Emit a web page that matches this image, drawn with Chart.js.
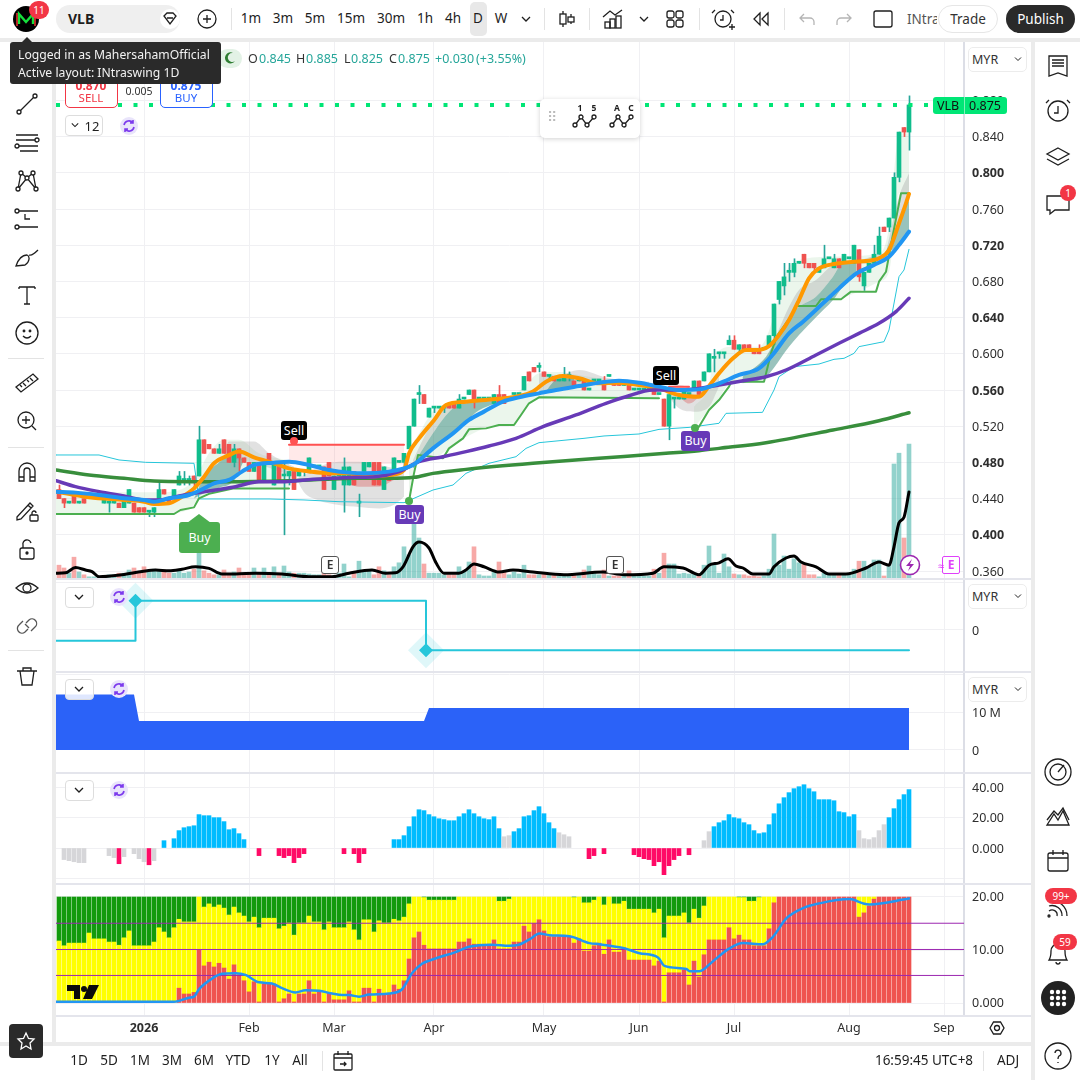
<!DOCTYPE html>
<html>
<head>
<meta charset="utf-8">
<title>VLB</title>
<script src="https://cdn.jsdelivr.net/npm/chart.js@4/dist/chart.umd.min.js"></script>
<style>
html,body{margin:0;padding:0;background:#ebebeb;width:1080px;height:1080px;overflow:hidden;font-family:"Noto Sans",sans-serif;color:#1e1e1e}
canvas{position:absolute;left:56px;display:block}
.box{position:absolute;box-sizing:border-box}
.t{position:absolute;white-space:nowrap;transform:translate(-50%,-50%);line-height:1}
.l{position:absolute;white-space:nowrap;transform:translateY(-50%);line-height:1}
svg.i{position:absolute;overflow:visible;fill:none;stroke:#1e1e1e;stroke-width:1.3}
</style>
</head>
<body>
<div class="box" style="left:0;top:0;width:1080px;height:38px;background:#fff"></div>
<div class="box" style="left:0;top:42px;width:52px;height:1000px;background:#fff"></div>
<div class="box" style="left:56px;top:42px;width:975px;height:1000px;background:#fff"></div>
<div class="box" style="left:1035px;top:42px;width:45px;height:1038px;background:#fff"></div>
<div class="box" style="left:0;top:1046px;width:1031px;height:34px;background:#fff"></div>
<canvas id="pricePane" width="975" height="536" style="top:42px"></canvas>
<canvas id="stepPane" width="975" height="94" style="top:578px"></canvas>
<canvas id="areaPane" width="975" height="100" style="top:672px"></canvas>
<canvas id="histPane" width="975" height="111" style="top:772px"></canvas>
<canvas id="stackPane" width="975" height="159" style="top:883px"></canvas>
<div id="chrome"></div>
<script>
// candles
const opens = [.450,.440,.435,.445,.435,.440,.440,.440,.440,.435,
  .435,.435,.435,.430,.435,.435,.430,.430,.425,.425,
  .435,.450,.440,.440,.455,.460,.460,.465,.465,.505,
  .500,.495,.490,.505,.500,.480,.495,.485,.480,.470,
  .480,.460,.490,.455,.480,.465,.465,.470,.465,.470,
  .470,.475,.475,.475,.480,.450,.465,.455,.455,.470,
  .435,.470,.475,.480,.480,.450,.470,.470,.480,.480,
  .495,.520,.555,.555,.530,.540,.540,.540,.545,.545,
  .540,.550,.555,.560,.550,.550,.550,.545,.555,.555,
  .550,.555,.555,.560,.580,.585,.585,.580,.575,.575,
  .570,.570,.575,.570,.570,.570,.560,.570,.570,.570,
  .575,.570,.570,.565,.570,.560,.560,.560,.560,.560,
  .555,.550,.520,.550,.550,.550,.555,.560,.570,.570,
  .580,.595,.600,.600,.610,.615,.605,.610,.610,.605,
  .605,.605,.610,.620,.660,.675,.690,.690,.700,.710,
  .700,.700,.690,.695,.705,.695,.705,.700,.705,.700,
  .715,.675,.690,.700,.710,.740,.740,.750,.795,.850,.845];
const highs = [.455,.440,.435,.445,.435,.440,.440,.440,.440,.440,
  .435,.435,.435,.440,.450,.435,.430,.430,.425,.430,
  .460,.450,.440,.450,.470,.470,.465,.465,.520,.505,
  .500,.495,.500,.505,.500,.500,.495,.485,.480,.480,
  .480,.480,.490,.480,.480,.480,.470,.470,.470,.470,
  .485,.475,.475,.475,.480,.465,.465,.485,.475,.470,
  .445,.480,.480,.480,.480,.475,.470,.485,.480,.490,
  .520,.550,.565,.555,.540,.540,.540,.540,.545,.545,
  .555,.550,.560,.560,.550,.550,.550,.555,.565,.555,
  .550,.555,.555,.575,.580,.585,.590,.580,.575,.575,
  .570,.585,.580,.570,.570,.570,.560,.570,.570,.575,
  .575,.570,.570,.570,.570,.560,.560,.560,.560,.560,
  .555,.550,.555,.550,.550,.560,.555,.570,.570,.580,
  .600,.605,.600,.600,.620,.620,.610,.610,.610,.605,
  .610,.605,.620,.655,.680,.700,.700,.705,.700,.710,
  .700,.700,.695,.720,.705,.710,.705,.710,.705,.720,
  .715,.690,.700,.720,.740,.740,.750,.800,.845,.850,.885];
const lows = [.440,.430,.435,.435,.435,.435,.440,.440,.440,.435,
  .425,.435,.430,.430,.435,.425,.425,.425,.420,.420,
  .435,.445,.435,.440,.455,.455,.455,.450,.465,.490,
  .495,.490,.490,.490,.480,.475,.470,.480,.470,.470,
  .460,.460,.480,.455,.460,.400,.455,.450,.465,.465,
  .470,.475,.475,.450,.465,.450,.465,.425,.455,.455,
  .420,.470,.475,.455,.455,.450,.460,.470,.480,.475,
  .495,.520,.545,.545,.530,.535,.540,.535,.540,.540,
  .540,.550,.555,.540,.550,.550,.550,.545,.545,.545,
  .550,.555,.555,.560,.570,.580,.580,.575,.570,.570,
  .570,.570,.570,.565,.570,.560,.560,.570,.570,.560,
  .575,.565,.565,.565,.560,.560,.560,.560,.560,.555,
  .555,.520,.505,.540,.550,.550,.555,.560,.555,.570,
  .580,.580,.595,.595,.610,.605,.600,.605,.605,.600,
  .600,.605,.610,.610,.655,.665,.680,.685,.700,.695,
  .695,.690,.690,.695,.705,.695,.695,.700,.705,.700,
  .680,.670,.690,.700,.710,.735,.735,.750,.790,.840,.825];
const closes = [.440,.435,.435,.435,.435,.435,.440,.440,.440,.440,
  .435,.435,.430,.440,.450,.425,.425,.425,.425,.430,
  .450,.445,.435,.450,.465,.460,.460,.460,.505,.490,
  .495,.490,.495,.490,.480,.495,.485,.480,.470,.480,
  .460,.480,.480,.480,.460,.465,.470,.450,.470,.470,
  .485,.475,.475,.450,.465,.465,.465,.475,.475,.455,
  .435,.480,.480,.455,.455,.475,.460,.485,.480,.490,
  .520,.550,.555,.545,.540,.540,.540,.540,.540,.540,
  .550,.550,.560,.550,.550,.550,.550,.555,.545,.545,
  .550,.555,.555,.575,.570,.580,.585,.575,.575,.570,
  .570,.575,.575,.565,.570,.560,.560,.570,.570,.560,
  .575,.565,.565,.570,.560,.560,.560,.560,.560,.555,
  .555,.520,.555,.550,.550,.560,.555,.570,.555,.580,
  .600,.595,.600,.600,.615,.605,.610,.605,.605,.600,
  .600,.605,.620,.655,.680,.685,.690,.700,.700,.700,
  .695,.695,.695,.705,.705,.705,.695,.710,.705,.720,
  .685,.690,.700,.710,.730,.735,.750,.795,.845,.845,.875];
const volumes = [3.2,2.5,1.2,5.2,1.5,.8,.3,.3,.3,.5,
  .8,.8,1.2,1.2,2,2.5,1.5,2.8,1.5,2.2,
  2,2,1.2,1.2,2,1.2,1.5,2.2,7,1.8,
  1.2,.8,.8,2,1.2,1.5,2.5,1,1,2.5,
  1.2,2.5,1,2.8,1.2,3,1.5,1.2,1.2,1.2,
  1,.8,.8,1.2,.8,.5,1.2,3.5,.3,1.2,
  4.2,1.5,2,.8,2.8,1.8,.8,2.8,3.8,7.8,
  5.8,17,10,3.5,1.2,1.2,1.2,.8,.8,.8,
  2.8,1.5,4,7.8,.8,.5,.5,1.5,4,1.8,
  .8,1.5,1,3.2,.8,.8,.8,1.2,.8,.8,
  .5,.8,.8,1,.8,2,3,1.5,.8,2,
  .5,.5,.5,.8,1.8,.8,.5,.5,.5,2.2,
  1.2,6.2,3.5,3.5,1,1.2,1,1.2,.5,3.2,
  8,3.5,1.2,6,2.8,1,.8,.8,.5,.5,
  .3,.5,2.2,11,3.2,5.5,2.2,4.8,3.8,3.5,
  .8,.8,.3,1.2,.8,.8,.8,.8,.8,2.2,
  4.2,4.2,2.8,4.5,4.5,.5,3.2,28.5,31.2,10,33.5];

// moving averages and stops, price per bar number
const orangeX = [-0.6,6,13,17,19,22,24,27,29,31,34,36,39,43,46,50,54,58,61,66,69,70,72,75,77.4,81.4,86.8,91.4,94.8,97.4,100.8,104,108,112,116,120,124,128,130,132,134.8,137.4,139.4,142,144,146,148,150,152,155,159,161.4,164,166,168,169.4,170];
const orangeY = [.4477,.4414,.4385,.4366,.434,.4348,.44,.4513,.464,.479,.488,.492,.4856,.479,.4734,.47,.468,.468,.464,.466,.4716,.4899,.5065,.5267,.5434,.5471,.5497,.5526,.5582,.5692,.5755,.5729,.5674,.5681,.5655,.5618,.5545,.5526,.5645,.5784,.595,.6042,.6042,.6086,.6208,.6373,.6594,.6834,.6944,.6992,.7018,.7025,.7055,.7147,.7442,.7663,.7766];
const blueX = [-0.6,3.3,8,13,17,19,22,26,29,31,34,36.6,39,43,46,50,54,58,61,66,69,70.8,74.8,78.8,82,85,88.8,92,96,99.4,104,108,112,116,120,124,128,132,136,140,142.7,146,148.8,152.8,156,159.5,163,166,168,170];
const blueY = [.4477,.4466,.444,.4403,.4385,.4366,.4403,.444,.4513,.4569,.4606,.4698,.4771,.4797,.4808,.4771,.4716,.4687,.4679,.4698,.4734,.4771,.4955,.5121,.5269,.5361,.5471,.5519,.5563,.56,.5644,.5681,.5703,.5681,.5637,.56,.5607,.5674,.5766,.5839,.5987,.6226,.6355,.6558,.6723,.6889,.6981,.7073,.7202,.7349];
const purpleX = [-0.6,3.3,8,13,17.3,20,24,28,31.3,35.3,40,44.6,49.3,54.6,59.3,63.3,68,72,76.8,81.4,86,91.4,96.8,103.4,109.4,113.4,118.8,123,128,132,136.8,141.4,145.4,151.4,156,160,164,167.4,170];
const purpleY = [.4598,.4532,.4477,.4429,.4385,.4385,.4429,.4466,.4495,.4532,.4587,.4587,.4606,.4624,.4635,.4642,.4698,.4808,.4863,.4919,.4981,.5066,.5195,.5324,.5453,.5526,.56,.56,.5618,.5655,.5703,.5747,.5821,.5987,.6116,.6226,.6337,.6466,.6613];
const longMaX = [-0.6,6,13,19,26,33,46,53,59,66,71,74.8,81.4,94.8,108,121.4,128,132,141.4,154.8,164,170];
const longMaY = [.4716,.4661,.4624,.4594,.4587,.4587,.4598,.4613,.4624,.4624,.4635,.4679,.4723,.479,.4845,.49,.493,.4955,.5018,.5158,.5261,.5349];
const cyanX = [-0.6,8,12,17.3,27,28,42,49,56,69,74.8,78.8,81.4,86,91.4,93.4,96,105,109,116,120,126,132,133.4,140.7,143,144,147,152,155,157,159,160,165,166,168,169,170];
const cyanY = [.4882,.4882,.4827,.4801,.479,.4396,.4396,.4385,.4366,.4355,.4495,.455,.4679,.479,.4863,.4955,.5018,.5066,.5092,.5114,.5165,.5187,.5232,.5342,.5353,.56,.5747,.5858,.5887,.5939,.595,.6005,.6079,.6134,.6263,.6852,.6926,.7154];
const stop1X = [-0.6,23,24.3,27,28,30,35,46];
const stop1Y = [.423,.423,.4274,.4303,.4403,.4453,.4513,.4513];
const stop2X = [70,71,71.8,76.8,78,80.8,82,85.4,88,91,92.4,94,96,120];
const stop2Y = [.4373,.4679,.4882,.4845,.4955,.5066,.5165,.5176,.5213,.5213,.5324,.5453,.5519,.5508];
const stop3X = [127,128,130,132,134,134.5,141,142.4,143.5,146.4,147.4,151.4,152.4,156.4,158.4,163.4,164,165.4,166.7,168.4,170];
const stop3Y = [.5187,.5195,.5379,.5489,.5637,.5692,.5692,.6005,.6189,.641,.6528,.6528,.6602,.6602,.6687,.6687,.6797,.6907,.7294,.7773,.7773];
const red1X = [46,69], red1Y = [.4995,.4995];
const red2X = [122,126], red2Y = [.5637,.5637];
const volAvgX = [-0.6,1.3,3.3,5.3,6.6,8,12.6,16.6,19.3,22,24.6,27.3,30,32.6,35.3,39.3,44.6,50,54.6,58,62.6,65.3,67.3,68.8,70.8,72,74,75.4,77,80,81.4,83,85,88,90.8,94.8,101,108.8,113,118.8,121,124.8,127,128,130,132,133.8,135.4,136.8,138.8,142,143,145.4,147,148.4,151.4,154,157.4,161.4,164,166,167,168,169,170];
const volAvgY = [1.2,1.3,2.6,2,1.6,.3,.8,1.6,2,1.8,2.2,2.8,2.4,1,1,1.2,1,.3,.3,1.2,2,1.2,1.3,2.8,7.8,9,7.5,3.8,1.2,1.2,2,3.5,2.8,1.5,2,1.5,.8,1.5,.8,1.2,2.8,2.5,1.2,.8,3.2,3.8,4.8,3,2.5,1,1,2.8,5,5.5,4,2.8,1,1,2.5,4,3.2,7.8,13.8,15.2,21.5];

// shaded clouds
const paleAX = [-0.6,10,20,26,28,30,33,36,40,46];
const paleATop = [.45,.447,.447,.455,.47,.49,.505,.505,.49,.482];
const paleABot = [.423,.423,.423,.428,.44,.445,.449,.4513,.4513,.4513];
const paleBX = [70,72,75,78,81,85,88,91,93,96,100,104,108,112,116,120];
const paleBTop = [.4937,.512,.538,.545,.549,.551,.5526,.5545,.5637,.5784,.58,.5766,.5729,.571,.569,.5655];
const paleBBot = [.4373,.489,.486,.4955,.5066,.5176,.5213,.5213,.538,.5519,.5515,.5515,.551,.551,.551,.5508];
const paleCX = [127,130,131,134.8,140,143.5,144.5,146,148,155,164,166,167,168,170];
const paleCTop = [.5416,.5655,.5968,.6079,.6079,.652,.6779,.6963,.7037,.7073,.711,.7405,.7994,.8436,.8436];
const paleCBot = [.5187,.5379,.543,.5692,.5692,.615,.625,.635,.6528,.6602,.6797,.6907,.7294,.7773,.7773];
const grey1X = [33,34,39,42,47], grey1Top = [.49,.503,.503,.49,.4753], grey1Bot = [.489,.4863,.479,.474,.464];
const grey2X = [47.5,49,52,56,60,64,67,69], grey2Top = [.462,.466,.4753,.4808,.4808,.4771,.4735,.4716], grey2Bot = [.462,.447,.438,.4329,.4308,.4292,.4332,.4421];
const grey3X = [70.8,74.8,78.8,81.4], grey3Top = [.4827,.5251,.5453,.5453], grey3Bot = [.4771,.5121,.5397,.5453];
const grey4X = [96,100,104,110,118], grey4Top = [.5784,.5766,.5821,.5729,.5692], grey4Bot = [.5563,.56,.5644,.5681,.5637];
const grey5X = [121,124,127,130,132], grey5Top = [.5618,.5655,.5618,.5618,.575], grey5Bot = [.56,.5397,.536,.5416,.5637];
const grey6X = [136.7,141.4,146,148,151.4,154.8,156.8,159.5,163,166], grey6Top = [.5747,.5968,.652,.6705,.6815,.698,.70,.702,.708,.712], grey6Bot = [.5747,.5968,.641,.6521,.6631,.6852,.70,.70,.699,.71];
const grey7X = [165.5,168,170], grey7Top = [.7147,.7736,.7994], grey7Bot = [.7147,.7442,.77];
const teal1X = [27,29,32,35,37], teal1Top = [.44,.464,.48,.49,.482], teal1Bot = [.44,.446,.452,.46,.482];
const teal2X = [70.8,74.8,78.8,81.4,84,90], teal2Top = [.4771,.5121,.5397,.5453,.5471,.549], teal2Bot = [.4734,.4937,.5114,.525,.5375,.549];
const teal3X = [97,100,103], teal3Top = [.5563,.573,.573], teal3Bot = [.5563,.56,.564];
const teal4X = [136.7,141.4,146,148,151.4,154.8,156.8,159.5], teal4Top = [.5747,.5968,.641,.6521,.6631,.6852,.70,.70], teal4Bot = [.5674,.5747,.6079,.6208,.6405,.6594,.6742,.6871];
const teal5X = [165.5,168,170], teal5Top = [.7147,.7442,.77], teal5Bot = [.711,.7202,.7349];
const redFillX = [46,69], redFillTop = [.4995,.4995], redFillBot = [.48,.478];
const redRibX = [56,60,64,67], redRibTop = [.466,.4647,.4672,.4672], redRibBot = [.462,.4532,.4532,.4606];
const redRib2X = [124,126,128.5], redRib2Top = [.5545,.5526,.5526], redRib2Bot = [.5526,.545,.5545];

// second pane: step line
const stepX = [-0.6,15.3,15.3,73.4,73.4,170];
const stepY = [-2.3,-2.3,6.2,6.2,-4.3,-4.3];
const stepMarkX = [15.3,73.4], stepMarkY = [6.2,-4.3];

// third pane: blue area
const areaX = [-0.6,15,16,73,74,170];
const areaY = [14.7,14.7,7.7,7.7,11.1,11.1];

// fourth pane: histogram
const histValues = [0,-7.6,-8.3,-9,-9.6,-9.6,0,0,0,0,
  -5,-6.3,-10.3,-5.7,0,-3.7,-7,-9,-11,-8.3,
  0,4.8,0,6.1,11.4,13.3,14,14.6,21.9,21.2,
  21.2,19.9,19.9,17.3,12,12.7,9.4,5.5,0,0,
  -5,0,0,0,-5,-6.3,-5,-9.6,-6.3,-3.7,
  0,0,0,0,0,0,0,-3.7,0,-3.7,
  -9.6,-3.7,0,0,0,0,0,5.5,5.5,8.1,
  14,20.5,25.1,24.5,21.9,20.5,19.2,18.6,17.9,17.9,
  20.5,22.5,25.1,22.5,20.5,19.2,18.6,20.5,12.7,7.4,
  8.1,10.7,12.7,20.5,21.2,24.5,27.1,22.5,16.6,12.7,
  10,8.7,7.4,0,0,0,-7,-5,0,-3.7,
  0,0,0,0,0,-4.4,-5.7,-7,-7.6,-11.6,
  -9,-17.5,-11.6,-7.6,-5,0,-4.4,0,0,4.8,
  10.7,14,16.6,17.9,21.9,19.9,19.2,16.6,15.3,11.4,
  9.4,10,15.3,22.5,29,33,36.3,38.9,40.2,41.5,
  38.9,36.9,31.7,31.7,31.7,31,23.8,23.2,20.5,21.9,
  11.4,6.1,5.5,6.8,11.4,15.3,19.9,25.8,31.7,35,38.3];
const histGreyBars = [1,2,3,4,5,10,11,13,15,16,17,19,89,90,100,101,102,129,130,160,161,162,163,164,165];

// fifth pane: stacked bars
const redTops = [0,0,0,0,0,0,0,0,0,0,
  0,0,0,0,0,0,0,0,0,0,
  0,0,0,0,2.8,1.7,1.7,2,10.1,7,
  7.7,6.8,7.5,6.6,4.5,7.2,5.3,4.2,2.1,4,
  .2,3.6,3.6,3.6,.2,.8,1.7,.2,1.7,1.7,
  4.2,1.7,2.1,.2,1.9,.6,.6,.6,2.3,.2,
  .2,2.8,2.8,.2,2.6,1.7,1.7,3.4,2.6,4.2,
  8.3,12.3,13.4,10.9,10.2,10.2,10.2,10.2,10.2,10.2,
  11.5,11.5,12.1,11.1,11.1,11.1,11.1,11.9,10.2,10.2,
  10.2,11.5,11.5,14.5,13.4,15,15.7,13.6,12.5,12.5,
  12.5,12.5,12.5,11.3,12.1,9.8,9.8,10.8,11.3,9.2,
  11.9,9.6,9.6,10.4,8.1,8.1,8.1,8.1,8.1,7,
  7.9,.2,5.7,5.7,5.7,6.2,3.4,7.9,4.9,9.1,
  11.9,11.9,11.9,11.9,14.2,12.1,12.8,11.9,11.9,10.8,
  10.8,10.8,14,18.9,20,20,20,20,20,20,
  20,20,20,20,20,20,20,20,20,20,
  16.2,17,18.3,19.6,20,20,20,20,20,20,20];
const yellowTops = [11.7,10.8,11.3,11.3,11.3,11.3,13.2,12.1,12.1,12.1,
  11.5,11.5,10.9,12.3,13.6,10.8,10.8,10.8,10.8,11.5,
  14.2,13.4,12.3,14.2,15.8,15.3,15.3,15.3,20,18.1,
  18.7,18.1,18.5,17.9,16.6,18.1,17,16.4,15.3,16.2,
  14.2,16,16,16,14,14.5,15.1,12.8,15.1,15.1,
  16.4,15.3,15.3,13.8,15.3,14.2,14.2,14.2,15.3,13.8,
  11.9,15.7,15.7,13.4,15.5,15.1,15.1,15.8,15.5,16.2,
  18.7,20,20,19.9,19.4,19.4,19.4,19.4,19.4,19.4,
  20,20,20,20,20,20,20,20,19.2,19.2,
  19.6,20,20,20,20,20,20,20,20,20,
  20,20,20,19.9,20,18.9,18.9,19.4,20,18.5,
  20,18.7,18.7,19.2,17.7,17.7,17.7,17.7,17.7,17,
  17.7,12.3,16.4,16.4,16.4,17,15.1,17.7,16,18.3,
  20,20,20,20,20,20,19.9,19.9,19.2,19.2,
  19.9,20,20,20,20,20,20,20,20,20,
  20,20,20,20,20,20,20,20,20,20,
  20,20,20,20,20,20,20,20,20,20,20];
const stackLevels = [5.2,10.1,15.05];
const trendX = [-0.6,23,26,27,28,30.6,32.6,35.3,37.3,40,42.6,44.6,47.3,49.3,52,54.6,56.6,58,60,62,66,68.6,70.6,72.6,75.3,79.3,82,86.6,90,92,94.1,96.1,98.1,102.1,106.1,108.1,110.1,112.8,116.1,119.8,121.1,125.5,126.1,128.1,130.8,134.1,136.8,140.8,142.8,145.5,148.8,152.1,158.1,160.8,162.1,170];
const trendY = [.25,.25,1,1.2,2.6,4.6,5.5,5.6,5.3,3.9,3.7,2.8,2,2.4,2.3,1.8,1.5,1.5,1.2,1.6,1.8,2.6,5.6,7.4,8.4,9.6,10.6,11,10.8,11,12,13.1,12.8,12.6,11.3,11.1,10.8,10.4,9.4,8.6,7,6.4,6,6,7.9,10.3,11.3,11.1,12.5,16,17.9,18.8,19.6,18.8,18.6,19.7];

// axes
const priceTicks = [.36,.40,.44,.48,.52,.56,.60,.64,.68,.72,.76,.80,.84,.88];
const boldPrices = [.40,.48,.56,.64,.72,.80];
const monthTicks = [17,38,55,75,97,116,135,158,177];
const monthLabels = ['2026','Feb','Mar','Apr','May','Jun','Jul','Aug','Sep'];
const lastPrice = .875;

const TEAL = '#10bd8c', WICK_TEAL = '#26a69a', RED = '#ef5350';
const GRID = '#f0f0f3', AXIS = '#dcdee6';
const xMin = -0.6, xMax = 181;

function xy(xs, ys) { return xs.map((x, i) => ({ x: x, y: ys[i] })) }
function lineSet(xs, ys, color, width, order, smooth) {
    return {
        type: 'line', data: xy(xs, ys), borderColor: color, borderWidth: width, order: order,
        pointRadius: 0, fill: false, cubicInterpolationMode: smooth ? 'monotone' : 'default', tension: 0,
        borderJoinStyle: 'round', borderCapStyle: 'round',
    }
}
function addBand(list, xs, top, bot, color, order) {
    const at = list.length
    list.push({ type: 'line', data: xy(xs, top), borderWidth: 0, pointRadius: 0, order: order, cubicInterpolationMode: 'monotone', fill: { target: at + 1 }, backgroundColor: color })
    list.push({ type: 'line', data: xy(xs, bot), borderWidth: 0, pointRadius: 0, order: order, cubicInterpolationMode: 'monotone', fill: false })
}
function rightAxis(min, max, ticks, label, font, labelOffset) {
    return {
        position: 'right', min: min, max: max, bounds: 'data',
        afterFit: (s) => { s.width = 67; s.paddingTop = 0; s.paddingBottom = 0 },
        afterBuildTicks: (s) => { s.ticks = ticks.map((v) => ({ value: v })) },
        border: { display: true, color: AXIS, width: 2 },
        grid: { color: GRID, drawTicks: false },
        ticks: {
            callback: label, color: '#2e2e2e', padding: 8, autoSkip: false, labelOffset: labelOffset === undefined ? 1 : labelOffset,
            font: font || { family: 'Noto Sans', size: 12.5 },
        },
    }
}
function bottomAxis(showLabels) {
    return {
        type: 'linear', min: xMin, max: xMax, offset: false, bounds: 'data',
        afterFit: (s) => { s.height = showLabels ? 27 : 0; s.paddingLeft = 0; s.paddingRight = 0 },
        afterBuildTicks: (s) => { s.ticks = monthTicks.map((v) => ({ value: v })) },
        border: { display: false },
        grid: { color: GRID, drawTicks: false, offset: false },
        ticks: {
            display: showLabels, autoSkip: false, maxRotation: 0, padding: 6, color: '#2e2e2e',
            callback: (v) => monthLabels[monthTicks.indexOf(v)],
            font: (c) => ({ family: 'Noto Sans', size: 12.5, weight: c.index === 0 ? 'bold' : 'normal' }),
        },
    }
}
function baseOptions(scales) {
    return {
        responsive: false, animation: false, events: [],
        layout: { autoPadding: false, padding: 0 },
        plugins: { legend: { display: false }, tooltip: { enabled: false } },
        scales: scales,
    }
}

// price pane
const bars = opens.map((o, i) => i)
const isUp = (i) => closes[i] >= opens[i]
const priceSets = []
priceSets.push({
    type: 'bar', yAxisID: 'vol', order: 90, grouped: false, barThickness: 4,
    data: xy(bars, volumes), backgroundColor: bars.map((i) => isUp(i) ? 'rgba(38,166,154,.5)' : 'rgba(239,83,80,.5)'),
})
addBand(priceSets, paleAX, paleATop, paleABot, 'rgba(76,175,80,.11)', 70)
addBand(priceSets, paleBX, paleBTop, paleBBot, 'rgba(76,175,80,.11)', 70)
addBand(priceSets, paleCX, paleCTop, paleCBot, 'rgba(76,175,80,.11)', 70)
addBand(priceSets, redFillX, redFillTop, redFillBot, 'rgba(255,82,82,.13)', 69)
addBand(priceSets, grey1X, grey1Top, grey1Bot, 'rgba(170,170,170,.35)', 66)
addBand(priceSets, grey2X, grey2Top, grey2Bot, 'rgba(170,170,170,.35)', 66)
addBand(priceSets, grey3X, grey3Top, grey3Bot, 'rgba(170,170,170,.35)', 66)
addBand(priceSets, grey4X, grey4Top, grey4Bot, 'rgba(170,170,170,.35)', 66)
addBand(priceSets, grey5X, grey5Top, grey5Bot, 'rgba(170,170,170,.35)', 66)
addBand(priceSets, grey6X, grey6Top, grey6Bot, 'rgba(170,170,170,.4)', 66)
addBand(priceSets, grey7X, grey7Top, grey7Bot, 'rgba(170,170,170,.4)', 66)
addBand(priceSets, redRibX, redRibTop, redRibBot, 'rgba(220,80,80,.35)', 64)
addBand(priceSets, redRib2X, redRib2Top, redRib2Bot, 'rgba(220,80,80,.35)', 64)
addBand(priceSets, teal1X, teal1Top, teal1Bot, 'rgba(70,145,135,.55)', 62)
addBand(priceSets, teal2X, teal2Top, teal2Bot, 'rgba(70,145,135,.55)', 62)
addBand(priceSets, teal3X, teal3Top, teal3Bot, 'rgba(70,145,135,.55)', 62)
addBand(priceSets, teal4X, teal4Top, teal4Bot, 'rgba(70,145,135,.55)', 62)
addBand(priceSets, teal5X, teal5Top, teal5Bot, 'rgba(70,145,135,.55)', 62)
// wick sits on a whole pixel just right of the body centre
priceSets.push({
    type: 'bar', order: 41, grouped: false, barThickness: 1,
    data: bars.map((i) => ({ x: i + .1, y: [lows[i], highs[i]] })),
    backgroundColor: bars.map((i) => isUp(i) ? WICK_TEAL : RED),
})
priceSets.push({
    type: 'bar', order: 40, grouped: false, barThickness: 4, minBarLength: 2,
    data: bars.map((i) => ({ x: i, y: [opens[i], closes[i]] })),
    backgroundColor: bars.map((i) => isUp(i) ? TEAL : RED),
})
priceSets.push(lineSet(cyanX, cyanY, '#26c6da', 1, 32))
priceSets.push(lineSet(stop1X, stop1Y, '#4caf50', 2, 31))
priceSets.push(lineSet(stop2X, stop2Y, '#4caf50', 2, 31))
priceSets.push(lineSet(stop3X, stop3Y, '#4caf50', 2, 31))
priceSets.push(lineSet(red1X, red1Y, '#ff5252', 2, 31))
priceSets.push(lineSet(red2X, red2Y, '#ff5252', 2, 31))
priceSets.push(lineSet(longMaX, longMaY, '#388e3c', 3.5, 24, true))
priceSets.push(lineSet(orangeX, orangeY, '#ff9800', 4, 22, true))
priceSets.push(lineSet(purpleX, purpleY, '#673ab7', 3.5, 20, true))
priceSets.push(lineSet(blueX, blueY, '#2196f3', 4, 18, true))
priceSets.push(lineSet(volAvgX, volAvgY, '#000000', 3, 16, true))
priceSets[priceSets.length - 1].yAxisID = 'vol'
priceSets.push(Object.assign(lineSet([xMin, 174.5], [lastPrice, lastPrice], '#00e676', 4, 10), { borderDash: [4, 11.5], borderCapStyle: 'butt' }))

new Chart(document.getElementById('pricePane'), {
    type: 'bar',
    data: { datasets: priceSets },
    options: baseOptions({
        x: bottomAxis(false),
        y: rightAxis(.35227, .94453, priceTicks, (v) => v.toFixed(3), (c) => ({
            family: 'Noto Sans', size: 12.5,
            weight: c.tick && boldPrices.some((p) => Math.abs(p - c.tick.value) < .001) ? 'bold' : 'normal',
        })),
        vol: { display: false, min: 0, max: 134, bounds: 'data' },
    }),
})

// step pane
new Chart(document.getElementById('stepPane'), {
    type: 'line',
    data: {
        datasets: [
            { data: xy(stepMarkX, stepMarkY), showLine: false, order: 3, pointStyle: 'rectRot', pointRadius: 18, backgroundColor: 'rgba(38,198,218,.15)', borderWidth: 0 },
            { data: xy(stepMarkX, stepMarkY), showLine: false, order: 1, pointStyle: 'rectRot', pointRadius: 7, backgroundColor: '#26c6da', borderWidth: 0 },
            lineSet(stepX, stepY, '#26c6da', 2, 2),
        ],
    },
    options: baseOptions({
        x: bottomAxis(false),
        y: rightAxis(-8.94, 11.06, [0, 10], (v) => v === 0 ? '0' : ''),
    }),
})

// area pane
new Chart(document.getElementById('areaPane'), {
    type: 'line',
    data: {
        datasets: [Object.assign(lineSet(areaX, areaY, '#2b62f8', 0, 1), { fill: 'origin', backgroundColor: '#2b62f8' })],
    },
    options: baseOptions({
        x: bottomAxis(false),
        y: rightAxis(-5.82, 20.63, [0, 10, 20], (v) => v === 0 ? '0' : v === 10 ? '10 M' : ''),
    }),
})

// histogram pane
new Chart(document.getElementById('histPane'), {
    type: 'bar',
    data: {
        datasets: [{
            data: xy(bars, histValues), barThickness: 4, grouped: false,
            backgroundColor: bars.map((i) => histValues[i] === 0 ? 'transparent' : histGreyBars.includes(i) ? '#d6d6d9' : histValues[i] > 0 ? '#00bcff' : '#ff0a66'),
        }],
    },
    options: baseOptions({
        x: bottomAxis(false),
        y: rightAxis(-22.95, 49.84, [-20, 0, 20, 40], (v) => v === 0 ? '0.000' : v > 0 ? v.toFixed(2) : ''),
    }),
})

// stacked pane
new Chart(document.getElementById('stackPane'), {
    type: 'bar',
    data: {
        datasets: [
            { data: bars.map((i) => ({ x: i, y: redTops[i] > 0 ? [0, redTops[i]] : null })), backgroundColor: '#ef5350', barThickness: 4, grouped: false, order: 5 },
            { data: bars.map((i) => ({ x: i, y: [redTops[i], yellowTops[i]] })), backgroundColor: bars.map((i) => yellowTops[i] > redTops[i] ? '#ffff00' : 'transparent'), barThickness: 4, grouped: false, order: 5 },
            { data: bars.map((i) => ({ x: i, y: yellowTops[i] < 20 ? [yellowTops[i], 20] : null })), backgroundColor: '#129a0c', barThickness: 4, grouped: false, order: 5 },
            ...stackLevels.map((v) => lineSet([xMin, xMax], [v, v], '#9c27b0', 1, 3)),
            lineSet(trendX, trendY, '#2196f3', 2.5, 1, true),
        ],
    },
    options: baseOptions({
        x: bottomAxis(true),
        y: rightAxis(-2.26, 22.64, [0, 10, 20], (v) => v === 0 ? '0.000' : v.toFixed(2), null, 0),
    }),
})

// page furniture round the chart
const chrome = document.getElementById('chrome')
function add(html) { chrome.insertAdjacentHTML('beforeend', html) }
function text(x, y, s, css) { add('<div class="t" style="left:' + x + 'px;top:' + y + 'px;' + (css || '') + '">' + s + '</div>') }
function left(x, y, s, css) { add('<div class="l" style="left:' + x + 'px;top:' + y + 'px;' + (css || '') + '">' + s + '</div>') }
function box(x, y, w, h, css, s) { add('<div class="box" style="left:' + x + 'px;top:' + y + 'px;width:' + w + 'px;height:' + h + 'px;' + (css || '') + '">' + (s || '') + '</div>') }
function icon(cx, cy, inner, css) { add('<svg class="i" width="24" height="24" viewBox="-12 -12 24 24" style="left:' + (cx - 12) + 'px;top:' + (cy - 12) + 'px;' + (css || '') + '">' + inner + '</svg>') }
const chevron = '<path d="M-4 -2 L0 2 L4 -2"/>'
const syncIcon = '<circle r="9" fill="#e9e4fb" stroke="none"/><path d="M-5 -1 A5 5 0 0 1 4 -3 M5 1 A5 5 0 0 1 -4 3 M4 -6 V-3 H1 M-4 6 V3 H-1" stroke="#7c3aed" stroke-width="1.6"/>'

// pane rules
const paneRules = [578, 671, 772, 883, 1015]
paneRules.forEach((y) => box(56, y, 975, 2, 'background:#e4e5ec'))

// top bar
add('<svg class="i" width="30" height="30" viewBox="0 0 30 30" style="left:11px;top:4px"><circle cx="15" cy="15" r="13" fill="#000" stroke="none"/><path d="M8 20V10l7 8 7-8v10" stroke="#16e03c" stroke-width="2.4"/><path d="M6 9v13M24 9v13" stroke="#e33" stroke-width="1.5"/></svg>')
box(29, 1, 20, 18, 'background:#f23645;border-radius:9px;color:#fff;font-size:10px;text-align:center;line-height:18px', '11')
box(56, 5, 124, 28, 'background:#efefef;border-radius:14px')
left(68, 19, 'VLB', 'font-weight:700;font-size:14px')
box(160, 9, 20, 20, 'background:#fff;border-radius:10px')
icon(170, 19, '<path d="M-6 -3 L-3 -6 H3 L6 -3 L0 5 Z M-3 -1 H3"/>')
icon(207, 19, '<circle r="9"/><path d="M-4 0H4M0 -4V4"/>')
box(231, 8, 1, 22, 'background:#e3e3e3')
box(470, 2, 17, 34, 'background:#e8e8e8;border-radius:5px')
const timeframes = [['1m', 251], ['3m', 283], ['5m', 315], ['15m', 351], ['30m', 391], ['1h', 425], ['4h', 453], ['D', 478], ['W', 501]]
timeframes.forEach((f) => text(f[1], 19, f[0], 'font-size:13.5px'))
icon(526, 19, chevron)
box(544, 8, 1, 22, 'background:#e3e3e3')
icon(567, 19, '<path d="M-4 -8V8M4 -5V5"/><rect x="-7" y="-5" width="6" height="10" fill="#fff"/><rect x="1" y="-2" width="6" height="5" fill="#fff"/>')
box(589, 8, 1, 22, 'background:#e3e3e3')
icon(613, 19, '<path d="M-10 -2L-3 -8L2 -4L9 -9"/><rect x="-8" y="3" width="5" height="6"/><rect x="-3" y="-0" width="5" height="9"/><rect x="3" y="-3" width="5" height="12"/>')
icon(644, 19, chevron)
icon(675, 19, '<rect x="-8" y="-8" width="7" height="7" rx="2"/><rect x="1" y="-8" width="7" height="7" rx="2"/><rect x="-8" y="1" width="7" height="7" rx="2"/><rect x="1" y="1" width="7" height="7" rx="2"/>')
box(699, 8, 1, 22, 'background:#e3e3e3')
icon(723, 19, '<circle r="8" cy="0"/><path d="M0 -4V1H-3M-8 -9L-11 -6M8 -9L11 -6M6 8H12M9 5V11"/>')
icon(761, 19, '<path d="M-1 -6L-7 0L-1 6ZM7 -6L1 0L7 6Z"/>')
box(784, 8, 1, 22, 'background:#e3e3e3')
icon(807, 19, '<path d="M-3 -5L-7 -1L-3 3M-7 -1H3A4 4 0 0 1 7 3V6"/>', 'stroke:#b5b5b5')
icon(844, 19, '<path d="M3 -5L7 -1L3 3M7 -1H-3A4 4 0 0 0 -7 3V6"/>', 'stroke:#b5b5b5')
icon(883, 19, '<rect x="-9" y="-8" width="18" height="16" rx="2"/>')
box(904, 8, 33, 22, 'overflow:hidden;font-size:13.5px;line-height:22px;color:#555;padding-left:3px', 'INtraswing')
box(938, 5, 60, 28, 'border:1px solid #e6e6e6;border-radius:14px;background:#fff;font-size:13.5px;text-align:center;line-height:26px;color:#333', 'Trade')
box(1006, 5, 69, 28, 'border-radius:14px;background:#2a2a2a;color:#fff;font-size:13.5px;text-align:center;line-height:28px', 'Publish')

// left tools
const toolIcons = [
    [104, '<path d="M-7 7L7 -7"/><circle cx="-8" cy="8" r="2" fill="#fff"/><circle cx="8" cy="-8" r="2" fill="#fff"/>'],
    [143, '<path d="M-11 -8H11M-11 -3H8M-8 3H11M-7 8H11"/><circle cx="10" cy="-3" r="2" fill="#fff"/><circle cx="-10" cy="3" r="2" fill="#fff"/>'],
    [181, '<path d="M-9 8L-6 -8L0 -3L6 -8L9 8M-9 8L0 -3L9 8"/><circle cx="-9" cy="8" r="2" fill="#fff"/><circle cx="-6" cy="-8" r="2" fill="#fff"/><circle cx="0" cy="-3" r="2" fill="#fff"/><circle cx="6" cy="-8" r="2" fill="#fff"/><circle cx="9" cy="8" r="2" fill="#fff"/>'],
    [219, '<path d="M-9 -8H11M-9 8H11M-2 -5V0H3"/><circle cx="-10" cy="-8" r="2" fill="#fff"/><circle cx="-10" cy="8" r="2" fill="#fff"/>'],
    [258, '<path d="M-11 8C-9 2 -5 -3 0 -3C3 -2 3 4 -2 7ZM2 -3C4 -2 6 -3 11 -8"/>'],
    [295, '<path d="M-8 -8H8M-8 -8V-6M8 -8V-6M0 -8V9M-3 9H3"/>'],
    [333, '<circle r="11"/><circle cx="-3" cy="-2" r=".8"/><circle cx="3" cy="-2" r=".8"/><path d="M-4 3Q0 7 4 3"/>'],
    [383, '<path d="M-11 4L6 -9L11 -4L-6 9ZM-7 2L-5 4M-4 0L-1 3M0 -3L2 -1M3 -5L6 -2"/>'],
    [421, '<circle cx="-1" cy="-1" r="8"/><path d="M5 5L9 9M-5 -1H3M-1 -5V3"/>'],
    [472, '<path d="M-8 9V-1A8 8 0 0 1 8 -1V9H3V-1A3 3 0 0 0 -3 -1V9ZM-8 5H-3M3 5H8"/>'],
    [511, '<path d="M-10 6L3 -8L6 -5L-6 8L-10 9ZM1 -6L4 -3"/><rect x="3" y="4" width="8" height="6" rx="1"/><path d="M5 4V2A2 2 0 0 1 9 2"/>'],
    [550, '<rect x="-7" y="-2" width="14" height="11" rx="2"/><path d="M-4 -2V-5A4 4 0 0 1 4 -7"/><circle cy="3" r="1" fill="#000"/>'],
    [588, '<path d="M-11 0Q0 -10 11 0Q0 10 -11 0Z"/><circle r="4"/>'],
    [626, '<path d="M-2 -2L2 2M-4 -5L-8 -1A4 4 0 0 0 -2 6L1 3M4 5L8 1A4 4 0 0 0 2 -6L-1 -3"/>', 'stroke:#555'],
    [676, '<path d="M-7 -5L-5 9H5L7 -5M-10 -5H10M-4 -5V-8H4V-5"/>'],
]
toolIcons.forEach((t) => icon(27, t[0], t[1], t[2] || ''))
const toolRules = [358, 447, 650]
toolRules.forEach((y) => box(8, y, 36, 1, 'background:#e3e3e3'))
box(9, 1024, 34, 34, 'background:#2a2a2a;border-radius:4px')
icon(26, 1041, '<path d="M0 -8L2.5 -2.5L8 -2L4 2L5 8L0 5L-5 8L-4 2L-8 -2L-2.5 -2.5Z" stroke="#fff"/>')

// right bar
const sideIcons = [
    [66, '<path d="M-9 -10H9V10L0 7L-9 10ZM-6 -6H6M-6 -3H6M-6 0H6"/>'],
    [111, '<circle r="10"/><path d="M0 -5V2H-4M-9 -11L-12 -8M9 -11L12 -8"/>'],
    [157, '<path d="M0 -9L11 -3L0 3L-11 -3ZM-11 2L0 8L11 2"/>'],
    [204, '<path d="M-11 -8H11V6H-3L-8 10V6H-11Z"/>'],
    [772, '<circle r="13"/><circle r="8"/><path d="M0 0L6 -7"/>'],
    [817, '<path d="M-11 8L-4 -3L0 3L5 -6L11 8ZM-11 3L-4 -6L0 -2L5 -9L11 3"/>'],
    [861, '<rect x="-10" y="-8" width="20" height="18" rx="2"/><path d="M-10 -3H10M-5 -11V-6M5 -11V-6"/>'],
    [907, '<path d="M-9 -6A15 15 0 0 1 9 9M-9 -1A10 10 0 0 1 4 9M-9 4A5 5 0 0 1 -1 9"/><circle cx="-9" cy="9" r="1"/>'],
    [953, '<path d="M-9 7Q-7 4 -7 -2A7 7 0 0 1 7 -2Q7 4 9 7ZM-2 9A2 2 0 0 0 2 9"/>'],
    [1056, '<circle r="13"/><path d="M-3 -3A3 3 0 1 1 1 0Q0 1 0 3M0 6V7"/>'],
]
sideIcons.forEach((t) => icon(1058, t[0], t[1]))
box(1060, 185, 16, 16, 'background:#f23645;border-radius:8px;color:#fff;font-size:10px;text-align:center;line-height:16px', '1')
box(1045, 888, 32, 16, 'background:#f23645;border-radius:8px;color:#fff;font-size:10px;text-align:center;line-height:16px', '99+')
box(1053, 934, 24, 16, 'background:#f23645;border-radius:8px;color:#fff;font-size:10px;text-align:center;line-height:16px', '59')
add('<svg class="i" width="34" height="34" viewBox="-17 -17 34 34" style="left:1041px;top:981px"><circle r="17" fill="#222" stroke="none"/>' +
    [-6, 0, 6].map((a) => [-6, 0, 6].map((b) => '<circle cx="' + a + '" cy="' + b + '" r="2.2" fill="#fff" stroke="none"/>').join('')).join('') + '</svg>')

// currency selectors
const myrTops = [47, 584, 677]
myrTops.forEach((y) => {
    box(968, y, 59, 25, 'background:#fff;border:1px solid #ececec;border-radius:5px;font-size:12.5px;line-height:23px;padding-left:3px;color:#333', 'MYR')
    icon(1018, y + 12, chevron, 'transform:scale(.75)')
})

// pane buttons
box(65, 115, 38, 21, 'border:1px solid #ddd;border-radius:4px;background:#fff')
icon(75, 125, chevron, 'transform:scale(.8)')
text(92, 126, '12', 'font-size:13px')
icon(129, 126, syncIcon)
const paneButtons = [597, 689, 790]
paneButtons.forEach((y) => {
    box(65, y - 10, 29, 21, 'border:1px solid #ddd;border-radius:4px;background:rgba(255,255,255,.85)')
    icon(79, y, chevron)
    icon(119, y, syncIcon)
})

// legend line
box(218, 49, 24, 19, 'background:#e3f2e6;border-radius:10px')
icon(230, 58, '<path d="M3 -5A5.5 5.5 0 1 0 5 3A4.5 4.5 0 1 1 3 -5Z" fill="#2e7d32" stroke="none"/>')
const ohlcParts = [['O', 248, '#333'], ['0.845', 259, '#26a69a'], ['H', 296, '#333'], ['0.885', 306, '#26a69a'], ['L', 344, '#333'], ['0.825', 351, '#26a69a'], ['C', 389, '#333'], ['0.875', 398, '#26a69a'], ['+0.030', 435, '#26a69a'], ['(+3.55%)', 476, '#26a69a']]
ohlcParts.forEach((p) => left(p[1], 59, p[0], 'font-size:12.5px;color:' + p[2]))

// buy and sell box
box(65, 75, 53, 33, 'border:1px solid #f23645;border-radius:5px;background:#fff')
text(91, 98, 'SELL', 'font-size:11.5px;color:#f23645')
text(91, 86, '0.870', 'font-size:12px;font-weight:700;color:#f23645')
box(160, 75, 53, 33, 'border:1px solid #2962ff;border-radius:5px;background:#fff')
text(186, 98, 'BUY', 'font-size:11.5px;color:#2962ff')
text(186, 86, '0.875', 'font-size:12px;font-weight:700;color:#2962ff')
text(139, 91, '0.005', 'font-size:10.5px;color:#333')

// tooltip over the legend
box(10, 42, 211, 42, 'background:#2a2a2a;border-radius:3px')
add('<svg class="i" width="12" height="6" style="left:21px;top:37px"><path d="M0 6L6 0L12 6Z" fill="#2a2a2a" stroke="none"/></svg>')
left(18, 55, 'Logged in as MahersahamOfficial', 'font-size:12.2px;color:#f2f2f2')
left(18, 73, 'Active layout: INtraswing 1D', 'font-size:12.2px;color:#f2f2f2')

// wave widget
box(540, 99, 100, 39, 'background:#fff;border-radius:5px;box-shadow:0 1px 5px rgba(0,0,0,.18)')
text(552, 117, '⠿', 'font-size:14px;color:#bbb')
const waveIcons = [585, 622]
const waveLabels = [['1', '5'], ['A', 'C']]
waveIcons.forEach((x, k) => {
    icon(x, 120, '<path d="M-10 5L-4 -3L2 5L9 -3"/><circle cx="-10" cy="5" r="2" fill="#fff"/><circle cx="-4" cy="-3" r="2" fill="#fff"/><circle cx="2" cy="5" r="2" fill="#fff"/><circle cx="9" cy="-3" r="2" fill="#fff"/>')
    text(x - 5, 108, waveLabels[k][0], 'font-size:8.5px;font-weight:700')
    text(x + 9, 108, waveLabels[k][1], 'font-size:8.5px;font-weight:700')
})

// last price badge
box(933, 97, 74, 17, 'background:#00e676;border-radius:3px')
box(964, 97, 1, 17, 'background:#7ff2b9')
text(948, 106, 'VLB', 'font-size:12.5px;color:#111')
text(985, 106, '0.875', 'font-size:12.5px;color:#111')

// trade signals
function signal(x, y, w, h, s, bg) { box(x, y, w, h, 'background:' + bg + ';border-radius:3px;color:#fff;font-size:12.5px;text-align:center;line-height:' + h + 'px', s) }
signal(179, 522, 41, 31, 'Buy', '#4caf50')
add('<svg class="i" width="24" height="9" style="left:187px;top:514px"><path d="M0 9L12 0L24 9Z" fill="#4caf50" stroke="none"/></svg>')
signal(281, 421, 26, 19, 'Sell', '#000')
signal(653, 366, 26, 19, 'Sell', '#000')
signal(395, 505, 29, 19, 'Buy', '#673ab7')
signal(681, 431, 29, 20, 'Buy', '#673ab7')
const signalDots = [[294, 441, '#ff5252'], [409, 501, '#4caf50'], [695, 428, '#4caf50']]
signalDots.forEach((d) => box(d[0] - 4, d[1] - 4, 8, 8, 'background:' + d[2] + ';border-radius:4px'))

// earnings flags
const earningFlags = [330, 615]
earningFlags.forEach((x) => box(x - 9, 556, 18, 18, 'background:#fff;border:1.5px solid #555;border-radius:3px;font-size:12px;text-align:center;line-height:15px;font-weight:600;color:#333', 'E'))
add('<svg class="i" width="22" height="22" viewBox="-11 -11 22 22" style="left:899px;top:554px"><circle r="9.5" fill="#fff" stroke="#9c27b0" stroke-width="1.6"/><path d="M2 -6L-4 1H0L-2 6L4 -1H0Z" fill="#9c27b0" stroke="none"/></svg>')
box(942, 556, 18, 18, 'border:1.5px solid #e040fb;border-radius:2px;background:#fff;font-size:12px;text-align:center;line-height:15px;font-weight:700;color:#e040fb', 'E')
left(938, 565, '≈', 'font-size:11px;color:#e040fb')

// tradingview mark
add('<svg class="i" width="34" height="20" viewBox="0 0 34 20" style="left:66px;top:982px"><path d="M1 3H14V17H8V9H1ZM15 7A3 3 0 1 1 21 7A3 3 0 1 1 15 7ZM23 3H33L26 17H17Z" fill="#0b0b0b" stroke="none"/></svg>')

// gear on time axis
icon(997, 1028, '<path d="M-7 0L-3.5 -6H3.5L7 0L3.5 6H-3.5Z"/><circle r="2.5"/>')

// bottom bar
const ranges = [['1D', 79], ['5D', 109], ['1M', 140], ['3M', 172], ['6M', 204], ['YTD', 238], ['1Y', 272], ['All', 300]]
ranges.forEach((r) => text(r[1], 1061, r[0], 'font-size:13.5px'))
box(322, 1051, 1, 20, 'background:#e3e3e3')
icon(343, 1061, '<rect x="-9" y="-7" width="18" height="16" rx="1"/><path d="M-9 -3H9M-5 -10V-6M5 -10V-6M-3 3H3M1 1L3 3L1 5"/>')
text(924, 1061, '16:59:45 UTC+8', 'font-size:13.5px')
box(983, 1051, 1, 20, 'background:#e3e3e3')
text(1008, 1061, 'ADJ', 'font-size:13.5px')
</script>
</body>
</html>
